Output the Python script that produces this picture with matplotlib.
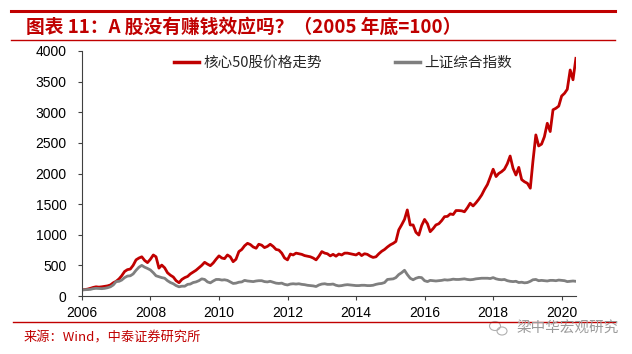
import matplotlib
matplotlib.use("Agg")
import matplotlib.pyplot as plt
import matplotlib.dates as mdates
from matplotlib.lines import Line2D
from matplotlib.patches import Ellipse
import numpy as np
import pandas as pd

plt.rcParams['font.family'] = ['Liberation Sans', 'Noto Sans CJK SC', 'DejaVu Sans']

title = "图表 11：A 股没有赚钱效应吗？（2005 年底=100）"
source = "来源：Wind，中泰证券研究所"
watermark = "梁中华宏观研究"
series_names = ["核心50股价格走势", "上证综合指数"]
y_ticks = [0, 500, 1000, 1500, 2000, 2500, 3000, 3500, 4000]
x_tick_years = [2006, 2008, 2010, 2012, 2014, 2016, 2018, 2020]

# monthly values, first point = end of 2005 (=100)
core50 = [
    100, 105, 112, 125, 140, 150, 145, 150, 158, 165, 180, 215,          # 2006
    240, 280, 330, 400, 430, 440, 500, 590, 620, 640, 580, 545,          # 2007
    600, 670, 640, 455, 505, 460, 380, 340, 310, 250, 217, 270,          # 2008
    300, 320, 360, 390, 420, 460, 500, 550, 520, 495, 540, 600,          # 2009
    655, 620, 610, 670, 640, 560, 600, 725, 760, 820, 860, 840,          # 2010
    800, 780, 845, 830, 790, 810, 845, 810, 760, 750, 700, 620,          # 2011
    590, 685, 670, 700, 690, 680, 660, 650, 640, 620, 590, 650,          # 2012
    725, 700, 690, 655, 680, 650, 685, 670, 700, 700, 690, 680,          # 2013
    670, 700, 660, 690, 680, 650, 630, 640, 690, 730, 760, 800,          # 2014
    835, 860, 890, 1080, 1160, 1250, 1405, 1160, 1160, 1040, 995, 1150,  # 2015
    1250, 1180, 1050, 1100, 1160, 1180, 1230, 1295, 1300, 1340, 1330, 1395,  # 2016
    1395, 1390, 1375, 1440, 1515, 1470, 1520, 1580, 1650, 1740, 1820, 1940,  # 2017
    2070, 1950, 2000, 2030, 2070, 2160, 2285, 2085, 1975, 2100, 1900, 1865,  # 2018
    1840, 1760, 2200, 2630, 2450, 2480, 2600, 2820, 2685, 3040, 3065, 3100,  # 2019
    3265, 3310, 3375, 3690, 3530, 3880,                                    # 2020
]
sh_comp = [
    100, 102, 105, 108, 120, 125, 122, 120, 125, 135, 150, 180,
    235, 240, 260, 300, 325, 330, 360, 420, 470, 500, 470, 450,
    425, 380, 330, 315, 300, 290, 250, 220, 200, 170, 150, 160,
    160, 190, 195, 220, 230, 250, 280, 270, 230, 215, 245, 270,
    270, 260, 265, 255, 230, 205, 210, 225, 230, 255, 245, 240,
    235, 245, 250, 250, 235, 230, 240, 225, 210, 205, 210, 190,
    180, 195, 200, 195, 200, 190, 185, 175, 170, 165, 155, 180,
    195, 200, 190, 190, 195, 175, 165, 170, 180, 185, 180, 175,
    170, 170, 175, 175, 170, 170, 175, 190, 200, 205, 220, 270,
    275, 280, 300, 350, 380, 420, 350, 290, 265, 290, 305, 300,
    250, 235, 255, 250, 245, 250, 255, 265, 260, 265, 275, 270,
    270, 275, 280, 270, 265, 270, 280, 285, 290, 290, 290, 285,
    300, 280, 270, 265, 270, 250, 240, 235, 240, 220, 225, 215,
    220, 240, 265, 270, 250, 255, 250, 245, 255, 255, 250, 260,
    255, 250, 235, 240, 245, 240,
]
dates = pd.date_range("2005-12-31", periods=len(core50), freq="ME")

RED = "#C00000"
GRAY = "#7F7F7F"

W, H = 632, 354
fig = plt.figure(figsize=(W / 100, H / 100), dpi=100)
ax = fig.add_axes([82 / W, 1 - 296 / H, (576 - 82) / W, (296 - 51) / H])

l1, = ax.plot(dates, core50, color=RED, lw=2.0, solid_joinstyle="round")
l2, = ax.plot(dates, sh_comp, color=GRAY, lw=2.0, solid_joinstyle="round")

ax.set_ylim(0, 4000)
ax.set_yticks(y_ticks)
ax.set_xlim(pd.Timestamp("2006-01-01"), pd.Timestamp("2020-06-01"))
ax.set_xticks([pd.Timestamp(f"{y}-01-01") for y in x_tick_years])
ax.xaxis.set_major_formatter(mdates.DateFormatter("%Y"))
for s in ["top", "right"]:
    ax.spines[s].set_visible(False)
for s in ["left", "bottom"]:
    ax.spines[s].set_color("#404040")
    ax.spines[s].set_linewidth(0.8)
ax.tick_params(axis="both", direction="out", length=3, width=0.8, color="#404040",
               labelsize=10, labelcolor="black")
ax.tick_params(axis="y", pad=8)
ax.tick_params(axis="x", pad=4.5)

leg = ax.legend([l1, l2], series_names, ncol=2, frameon=False,
                loc="center", bbox_to_anchor=(343 / W, 1 - 63 / H),
                bbox_transform=fig.transFigure, handlelength=1.7,
                handletextpad=0.3, columnspacing=5.0,
                prop={"family": ["Noto Sans CJK SC"], "size": 10.5})
for t in leg.get_texts():
    t.set_color("#262626")
for h in leg.legend_handles:
    h.set_linewidth(2.5)

# header decorations
fig.add_artist(Line2D([11 / W, 615 / W], [1 - 11 / H] * 2, color=RED, lw=2.2,
                      transform=fig.transFigure))
fig.add_artist(Line2D([11 / W, 615 / W], [1 - 40 / H] * 2, color=RED, lw=1.0,
                      transform=fig.transFigure))
fig.text(26 / W, 1 - 27.5 / H, title, color=RED, fontsize=13.5, fontweight="bold",
         family=["Noto Sans CJK SC"], va="center", ha="left")

# footer
fig.add_artist(Line2D([13 / W, 615 / W], [1 - 322 / H] * 2, color=RED, lw=1.0,
                      transform=fig.transFigure))
fig.text(24 / W, 1 - 338 / H, source, color=RED, fontsize=9.5,
         family=["Noto Sans CJK SC"], va="center", ha="left")
fig.text(619 / W, 1 - 328 / H, watermark, color="#9a9a9a", fontsize=10.5,
         family=["Noto Sans CJK SC"], va="center", ha="right")
# small chat-bubble style icon beside the watermark
fig.add_artist(Ellipse((495 / W, 1 - 326 / H), 11 / W, 9 / H, fill=False,
                       ec="#b0b0b0", lw=0.8, transform=fig.transFigure))
fig.add_artist(Ellipse((502 / W, 1 - 331 / H), 10 / W, 8 / H, fill=False,
                       ec="#b0b0b0", lw=0.8, transform=fig.transFigure))

fig.savefig("out.png", dpi=100)
